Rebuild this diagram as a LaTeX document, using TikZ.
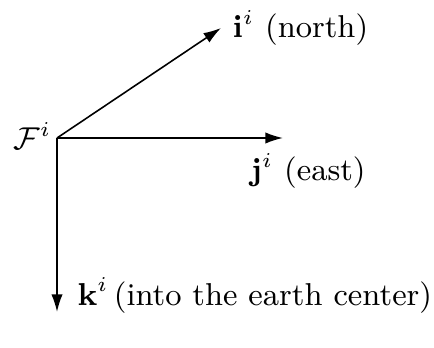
\documentclass[tikz,border=0pt]{standalone}
\usepackage{amsmath}
\usepackage{amssymb}
\usepackage{tikz}
\usetikzlibrary{arrows.meta, positioning}

\begin{document}
\begin{tikzpicture}[
  font=\fontsize{9}{11}\selectfont,
  axis/.style={-{Latex[length=5pt, width=3.2pt]}, line width=0.45pt},
  lbl/.style={anchor=base west, inner sep=0pt}
]
  \useasboundingbox (-0.57,-2.09) rectangle (3.77,1.38);

  \coordinate (O) at (0, 0);
  \coordinate (N) at (1.64, 1.10);
  \coordinate (E) at (2.26, 0);
  \coordinate (D) at (0, -1.74);

  \draw[axis] (O) -- (N);
  \draw[axis] (O) -- (E);
  \draw[axis] (O) -- (D);

  \node[lbl] (Fi)    at (-0.44, -0.12) {$\mathcal{F}^i$};
  \node[lbl] (north) at (1.75, 1.00)   {$\mathbf{i}^i$ (north)};
  \node[lbl] (east)  at (1.93, -0.43)  {$\mathbf{j}^i$ (east)};
  \node[lbl] (down)  at (0.20, -1.67)  {$\mathbf{k}^i$\,(into the earth center)};
\end{tikzpicture}
\end{document}
